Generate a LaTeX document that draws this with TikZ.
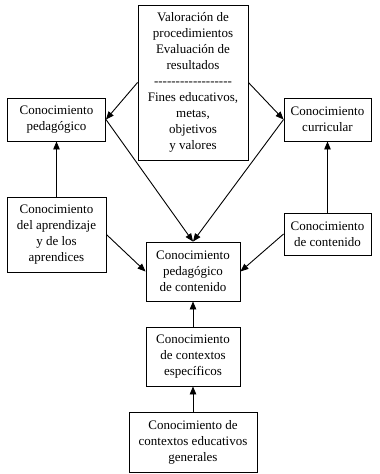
\documentclass[tikz,border=0pt]{standalone}
\usepackage{fontspec}
\setmainfont{Liberation Serif}
\usetikzlibrary{arrows.meta}
\def\hy{-\kern0pt}
\begin{document}
\begin{tikzpicture}[x=1pt,y=-1pt,
  box/.style={draw,line width=0.9pt,align=center,inner sep=1pt,
    font=\fontsize{13}{16}\selectfont},
  arr/.style={line width=0.9pt,-{Triangle[length=8pt,width=6.5pt]}}]
\useasboundingbox (0,0) rectangle (380,474);
\node[box,minimum width=110pt,minimum height=155pt] (top) at (193,82.5)
  {Valoración de\\procedimientos\\Evaluación de\\resultados\\
   \hy\hy\hy\hy\hy\hy\hy\hy\hy\hy\hy\hy\hy\hy\hy\hy\hy\hy\\
   Fines educativos,\\metas,\\objetivos\\y valores};
\node[box,minimum width=98pt,minimum height=43pt] (ped) at (56.5,119.5)
  {Conocimiento\\pedagógico};
\node[box,minimum width=87pt,minimum height=43pt] (cur) at (327.5,119.5)
  {Conocimiento\\curricular};
\node[box,minimum width=99pt,minimum height=75pt] (apr) at (56.5,234.5)
  {Conocimiento\\del aprendizaje\\y de los\\aprendices};
\node[box,minimum width=87pt,minimum height=42pt] (con) at (327.5,234)
  {Conocimiento\\de contenido};
\node[box,minimum width=94pt,minimum height=59pt] (pck) at (193,271.5)
  {Conocimiento\\pedagógico\\de contenido};
\node[box,minimum width=94pt,minimum height=59pt] (esp) at (193,356.5)
  {Conocimiento\\de contextos\\específicos};
\node[box,minimum width=128pt,minimum height=60pt] (gen) at (193,442)
  {Conocimiento de\\contextos educativos\\generales};
\draw[arr] (top.west) -- (ped.east);
\draw[arr] (top.east) -- (cur.west);
\draw[arr] (ped.east) -- (pck.north);
\draw[arr] (cur.west) -- (pck.north);
\draw[arr] (apr.east) -- (pck.west);
\draw[arr] (con.west) -- (pck.east);
\draw[arr] (apr.north) -- (ped.south);
\draw[arr] (con.north) -- (cur.south);
\draw[arr] (esp.north) -- (pck.south);
\draw[arr] (gen.north) -- (esp.south);
\end{tikzpicture}
\end{document}
